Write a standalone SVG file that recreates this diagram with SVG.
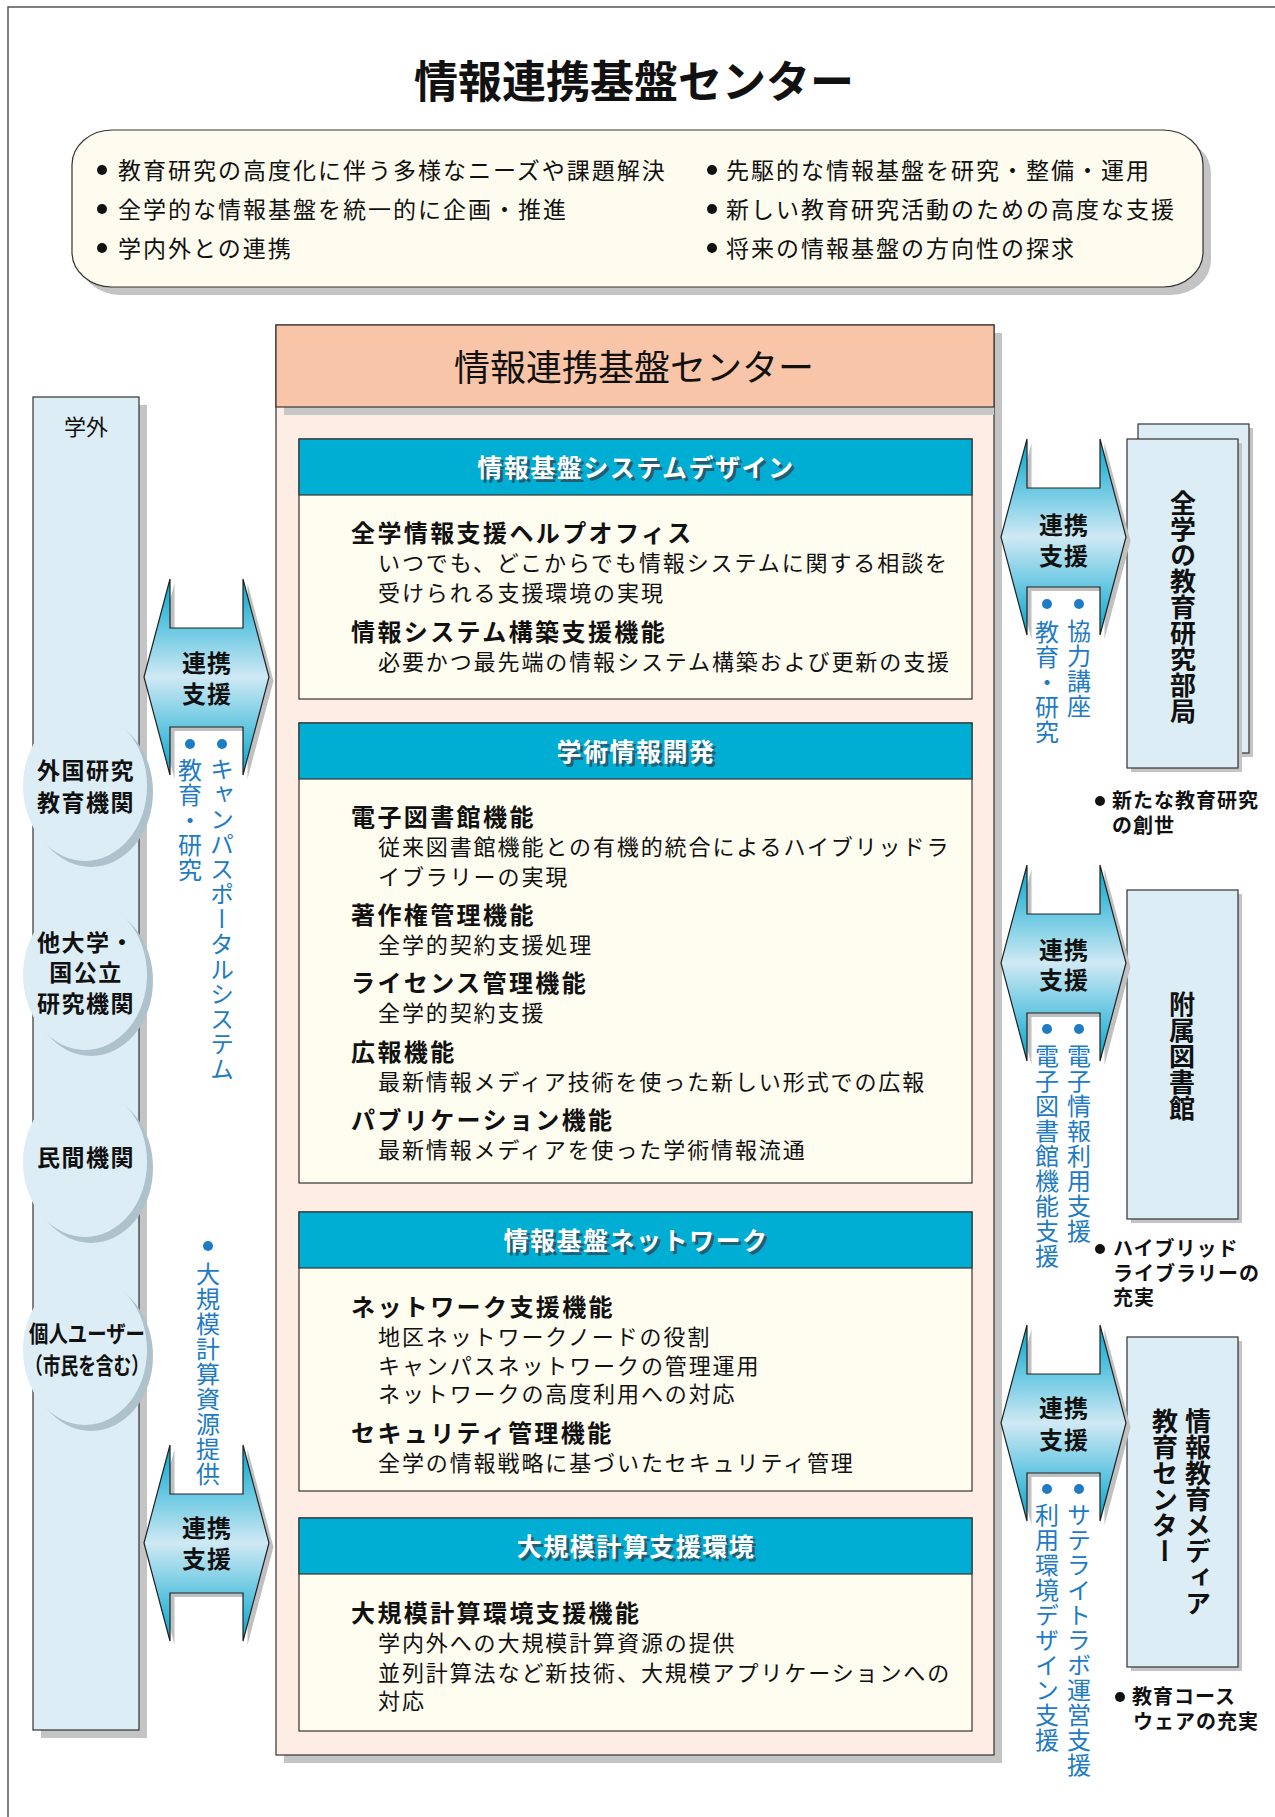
<svg xmlns="http://www.w3.org/2000/svg" width="1275" height="1817" viewBox="0 0 1275 1817">
<defs>
<style>
text{font-family:"Noto Sans CJK JP","Noto Sans CJK SC",sans-serif;fill:#111}
.title{font-size:44px;font-weight:700;text-anchor:middle}
.top{font-size:23px;letter-spacing:2px}
.ctitle{font-size:36px;text-anchor:middle}
.ph{font-size:25px;font-weight:700;letter-spacing:1.5px;fill:#fff;text-anchor:middle}
.phs{font-size:25px;font-weight:700;letter-spacing:1.5px;fill:#2d4a5a;text-anchor:middle;opacity:.8}
.ih{font-size:24px;font-weight:700;letter-spacing:2.4px}
.it{font-size:22px;letter-spacing:1.9px}
.vt{writing-mode:vertical-rl;font-size:24px;letter-spacing:1px;fill:#1e7bc4}
.vb{writing-mode:vertical-rl;font-size:26px;font-weight:700}
.arw{font-size:24px;font-weight:700;letter-spacing:1px;text-anchor:middle}
.el{font-size:23px;font-weight:700;letter-spacing:1.5px;text-anchor:middle}
.note{font-size:20px;font-weight:700;letter-spacing:1px}
.gai{font-size:22px;text-anchor:middle}
.box{fill:#dcedf5;stroke:#333;stroke-width:1.2}
.sh{fill:#c4c4c4}
.esh{fill:#aec2cb}
.ell{fill:#dcedf5}
.panel{fill:#fffdf0;stroke:#333;stroke-width:1.2}
.pbar{fill:#00aed4;stroke:#333;stroke-width:1.2}
.dot{fill:#1e7bc4}
.kdot{fill:#111}
</style>
<linearGradient id="ag" x1="0" y1="0" x2="0" y2="1">
<stop offset="0" stop-color="#00a6cf"/>
<stop offset="0.5" stop-color="#cfe9f4"/>
<stop offset="1" stop-color="#00a6cf"/>
</linearGradient>
<path id="arrow" d="M-36.5,-98 V-49 H36.5 V-98 L62.5,0 L36.5,98 V50 H-36.5 V98 L-62.5,0 Z"/>
</defs>

<rect width="1275" height="1817" fill="#fff"/>
<path d="M8,1817 V7 H1275" fill="none" stroke="#555" stroke-width="1.5"/>

<g id="main-title">
<text class="title" x="634" y="98">情報連携基盤センター</text>
</g>

<g id="mission-box">
<rect x="80" y="138" width="1131" height="157" rx="40" ry="35" class="sh"/>
<rect x="72" y="130" width="1131" height="157" rx="40" ry="35" fill="#fefcef" stroke="#333" stroke-width="1.2"/>
<circle class="kdot" cx="102" cy="170" r="5"/>
<circle class="kdot" cx="102" cy="209" r="5"/>
<circle class="kdot" cx="102" cy="248" r="5"/>
<circle class="kdot" cx="712" cy="170" r="5"/>
<circle class="kdot" cx="712" cy="209" r="5"/>
<circle class="kdot" cx="712" cy="248" r="5"/>
<text class="top" x="118" y="179">教育研究の高度化に伴う多様なニーズや課題解決</text>
<text class="top" x="118" y="218">全学的な情報基盤を統一的に企画・推進</text>
<text class="top" x="118" y="257">学内外との連携</text>
<text class="top" x="726" y="179">先駆的な情報基盤を研究・整備・運用</text>
<text class="top" x="726" y="218">新しい教育研究活動のための高度な支援</text>
<text class="top" x="726" y="257">将来の情報基盤の方向性の探求</text>
</g>

<g id="gakugai">
<rect class="sh" x="41" y="405" width="106" height="1333"/>
<rect class="box" x="33" y="397" width="106" height="1333"/>
<text class="gai" x="86" y="435">学外</text>
</g>

<g id="gaikoku">
<ellipse class="esh" cx="91" cy="792" rx="62" ry="75"/>
<ellipse class="ell" cx="85" cy="786" rx="62" ry="75"/>
<text class="el" x="86" y="779">外国研究</text>
<text class="el" x="86" y="811">教育機関</text>
</g>
<g id="tadaigaku">
<ellipse class="esh" cx="91" cy="981" rx="62" ry="75"/>
<ellipse class="ell" cx="85" cy="975" rx="62" ry="75"/>
<text class="el" x="86" y="951">他大学・</text>
<text class="el" x="86" y="981">国公立</text>
<text class="el" x="86" y="1012">研究機関</text>
</g>
<g id="minkan">
<ellipse class="esh" cx="91" cy="1168" rx="62" ry="75"/>
<ellipse class="ell" cx="85" cy="1162" rx="62" ry="75"/>
<text class="el" x="86" y="1166">民間機関</text>
</g>
<g id="kojin">
<ellipse class="esh" cx="91" cy="1356" rx="62" ry="75"/>
<ellipse class="ell" cx="85" cy="1350" rx="62" ry="75"/>
<text class="el" x="87" y="1342" textLength="116" lengthAdjust="spacingAndGlyphs" style="letter-spacing:0">個人ユーザー</text>
<text class="el" x="87" y="1374" textLength="124" lengthAdjust="spacingAndGlyphs" style="letter-spacing:0">（市民を含む）</text>
</g>

<g id="center">
<rect class="sh" x="284" y="333" width="718" height="1430"/>
<rect x="276" y="325" width="718" height="1430" fill="#feede4" stroke="#333" stroke-width="1.2"/>
<rect x="284" y="407" width="710" height="8" fill="#c8c8c8"/>
<rect x="276" y="325" width="718" height="82" fill="#f8c5a8" stroke="#333" stroke-width="1.2"/>
<text class="ctitle" x="634" y="381">情報連携基盤センター</text>
</g>

<g id="panel-system-design">
<rect class="panel" x="299" y="439" width="673" height="260"/>
<rect class="pbar" x="299" y="439" width="673" height="56"/>
<text class="phs" x="639" y="480">情報基盤システムデザイン</text>
<text class="ph" x="636" y="477">情報基盤システムデザイン</text>
<text class="ih" x="351" y="542">全学情報支援ヘルプオフィス</text>
<text class="it" x="378" y="571">いつでも、どこからでも情報システムに関する相談を</text>
<text class="it" x="378" y="601">受けられる支援環境の実現</text>
<text class="ih" x="351" y="641">情報システム構築支援機能</text>
<text class="it" x="378" y="670">必要かつ最先端の情報システム構築および更新の支援</text>
</g>

<g id="panel-academic-info">
<rect class="panel" x="299" y="723" width="673" height="460"/>
<rect class="pbar" x="299" y="723" width="673" height="56"/>
<text class="phs" x="639" y="764">学術情報開発</text>
<text class="ph" x="636" y="761">学術情報開発</text>
<text class="ih" x="351" y="826">電子図書館機能</text>
<text class="it" x="378" y="855">従来図書館機能との有機的統合によるハイブリッドラ</text>
<text class="it" x="378" y="885">イブラリーの実現</text>
<text class="ih" x="351" y="924">著作権管理機能</text>
<text class="it" x="378" y="953">全学的契約支援処理</text>
<text class="ih" x="351" y="992">ライセンス管理機能</text>
<text class="it" x="378" y="1021">全学的契約支援</text>
<text class="ih" x="351" y="1061">広報機能</text>
<text class="it" x="378" y="1090">最新情報メディア技術を使った新しい形式での広報</text>
<text class="ih" x="351" y="1129">パブリケーション機能</text>
<text class="it" x="378" y="1158">最新情報メディアを使った学術情報流通</text>
</g>

<g id="panel-network">
<rect class="panel" x="299" y="1212" width="673" height="279"/>
<rect class="pbar" x="299" y="1212" width="673" height="56"/>
<text class="phs" x="639" y="1253">情報基盤ネットワーク</text>
<text class="ph" x="636" y="1250">情報基盤ネットワーク</text>
<text class="ih" x="351" y="1316">ネットワーク支援機能</text>
<text class="it" x="378" y="1345">地区ネットワークノードの役割</text>
<text class="it" x="378" y="1374">キャンパスネットワークの管理運用</text>
<text class="it" x="378" y="1402">ネットワークの高度利用への対応</text>
<text class="ih" x="351" y="1442">セキュリティ管理機能</text>
<text class="it" x="378" y="1471">全学の情報戦略に基づいたセキュリティ管理</text>
</g>

<g id="panel-hpc">
<rect class="panel" x="299" y="1518" width="673" height="213"/>
<rect class="pbar" x="299" y="1518" width="673" height="56"/>
<text class="phs" x="639" y="1559">大規模計算支援環境</text>
<text class="ph" x="636" y="1556">大規模計算支援環境</text>
<text class="ih" x="351" y="1622">大規模計算環境支援機能</text>
<text class="it" x="378" y="1651">学内外への大規模計算資源の提供</text>
<text class="it" x="378" y="1681">並列計算法など新技術、大規模アプリケーションへの</text>
<text class="it" x="378" y="1709">対応</text>
</g>

<g id="bukyoku">
<rect class="sh" x="1142" y="428" width="111" height="329"/>
<rect class="box" x="1138" y="424" width="111" height="329"/>
<rect class="sh" x="1131" y="443" width="111" height="329"/>
<rect class="box" x="1127" y="439" width="111" height="329"/>
<text class="vb" x="1183" y="490">全学の教育研究部局</text>
<circle class="kdot" cx="1100" cy="801" r="5"/>
<text class="note" x="1112" y="808">新たな教育研究</text>
<text class="note" x="1112" y="833">の創世</text>
</g>

<g id="toshokan">
<rect class="sh" x="1131" y="894" width="111" height="329"/>
<rect class="box" x="1127" y="890" width="111" height="329"/>
<text class="vb" x="1182" y="991">附属図書館</text>
<circle class="kdot" cx="1100" cy="1249" r="5"/>
<text class="note" x="1113" y="1256">ハイブリッド</text>
<text class="note" x="1113" y="1281">ライブラリーの</text>
<text class="note" x="1113" y="1305">充実</text>
</g>

<g id="media-center">
<rect class="sh" x="1131" y="1341" width="111" height="330"/>
<rect class="box" x="1127" y="1337" width="111" height="330"/>
<text class="vb" x="1198" y="1408">情報教育メディア</text>
<text class="vb" x="1165" y="1408">教育センター</text>
<circle class="kdot" cx="1120" cy="1697" r="5"/>
<text class="note" x="1132" y="1704">教育コース</text>
<text class="note" x="1133" y="1729">ウェアの充実</text>
</g>

<g id="connectors">
<g id="link-left-1">
<use href="#arrow" transform="translate(211,681)" fill="#c0c0c0"/>
<use href="#arrow" transform="translate(206.5,677)" fill="url(#ag)" stroke="#222" stroke-width="1.2"/>
<text class="arw" x="207" y="672">連携</text>
<text class="arw" x="207" y="703">支援</text>
<circle class="dot" cx="190" cy="744" r="5"/>
<circle class="dot" cx="222" cy="744" r="5"/>
<text class="vt" x="190" y="758">教育・研究</text>
<text class="vt" x="222" y="757">キャンパスポータルシステム</text>
</g>
<g id="link-left-2">
<use href="#arrow" transform="translate(211,1547)" fill="#c0c0c0"/>
<use href="#arrow" transform="translate(206.5,1543)" fill="url(#ag)" stroke="#222" stroke-width="1.2"/>
<text class="arw" x="207" y="1537">連携</text>
<text class="arw" x="207" y="1568">支援</text>
<circle class="dot" cx="208" cy="1246" r="5"/>
<text class="vt" x="208" y="1262">大規模計算資源提供</text>
</g>
<g id="link-right-1">
<use href="#arrow" transform="translate(1068,541)" fill="#c0c0c0"/>
<use href="#arrow" transform="translate(1063.5,537)" fill="url(#ag)" stroke="#222" stroke-width="1.2"/>
<text class="arw" x="1064" y="534">連携</text>
<text class="arw" x="1064" y="565">支援</text>
<circle class="dot" cx="1047" cy="604" r="5"/>
<circle class="dot" cx="1079" cy="604" r="5"/>
<text class="vt" x="1047" y="620">教育・研究</text>
<text class="vt" x="1079" y="619">協力講座</text>
</g>
<g id="link-right-2">
<use href="#arrow" transform="translate(1068,967)" fill="#c0c0c0"/>
<use href="#arrow" transform="translate(1063.5,963)" fill="url(#ag)" stroke="#222" stroke-width="1.2"/>
<text class="arw" x="1064" y="959">連携</text>
<text class="arw" x="1064" y="989">支援</text>
<circle class="dot" cx="1047" cy="1029" r="5"/>
<circle class="dot" cx="1079" cy="1029" r="5"/>
<text class="vt" x="1047" y="1044">電子図書館機能支援</text>
<text class="vt" x="1079" y="1044">電子情報利用支援</text>
</g>
<g id="link-right-3">
<use href="#arrow" transform="translate(1068,1427)" fill="#c0c0c0"/>
<use href="#arrow" transform="translate(1063.5,1423)" fill="url(#ag)" stroke="#222" stroke-width="1.2"/>
<text class="arw" x="1064" y="1417">連携</text>
<text class="arw" x="1064" y="1449">支援</text>
<circle class="dot" cx="1047" cy="1489" r="5"/>
<circle class="dot" cx="1079" cy="1489" r="5"/>
<text class="vt" x="1047" y="1503">利用環境デザイン支援</text>
<text class="vt" x="1079" y="1503">サテライトラボ運営支援</text>
</g>
</g>
</svg>
